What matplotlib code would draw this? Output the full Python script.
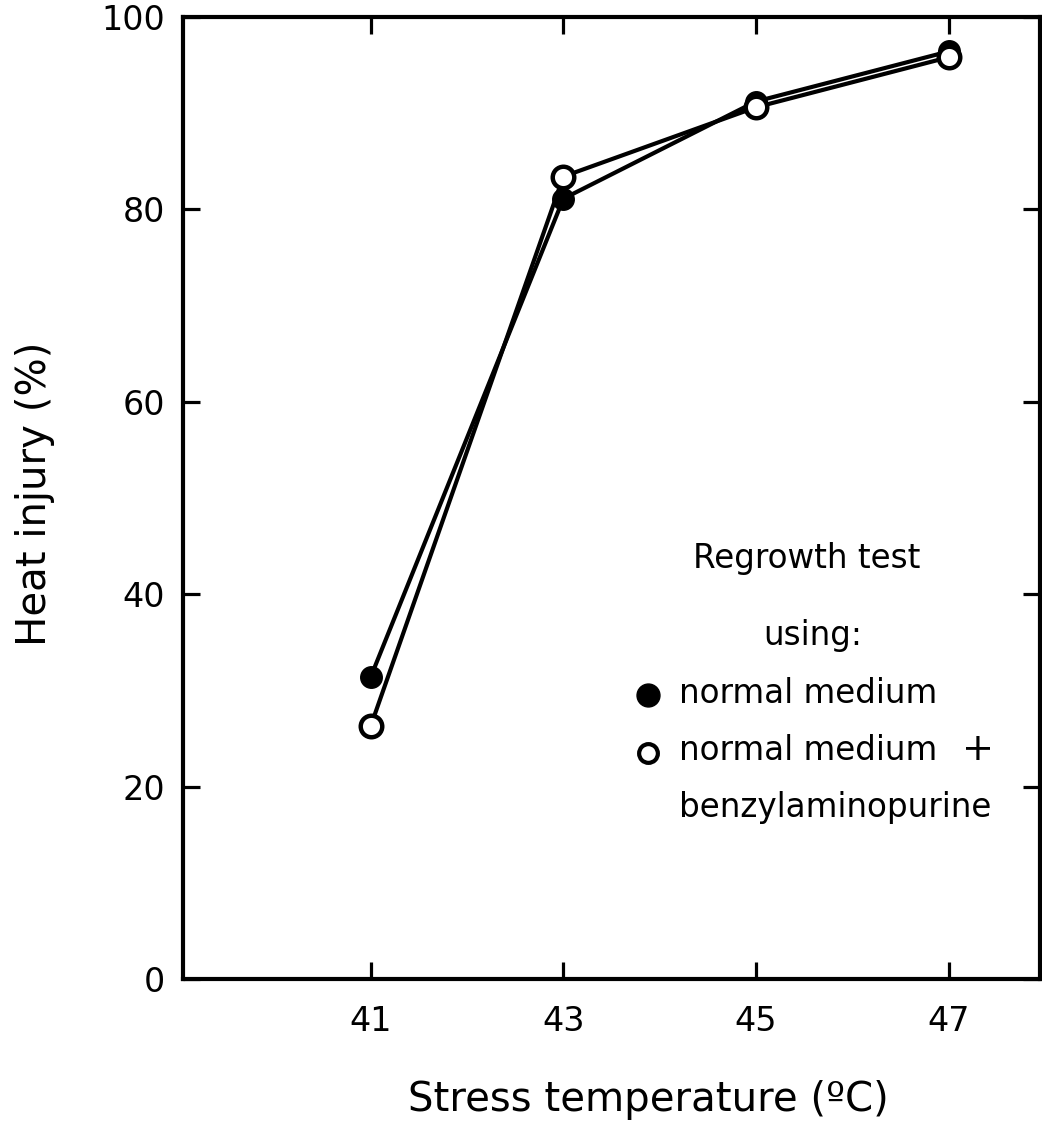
import matplotlib.pyplot as plt

plt.rcParams['font.family'] = ['DejaVu Sans']

temps = [41, 43, 45, 47]
normal = [31.4, 81.1, 91.2, 96.4]
normal_bap = [26.3, 83.4, 90.6, 95.8]
xticks = [41, 43, 45, 47]
yticks = [0, 20, 40, 60, 80, 100]

fig = plt.figure(figsize=(10.42, 11.3), dpi=100)
ax = fig.add_axes([0.1756, 0.1336, 0.8225, 0.8515])

ax.plot(temps, normal, color='k', linewidth=3, marker='o', markersize=15.5,
        markerfacecolor='k', markeredgecolor='k', zorder=3)
ax.plot(temps, normal_bap, color='k', linewidth=3, marker='o', markersize=15.5,
        markerfacecolor='white', markeredgecolor='k', markeredgewidth=3.2, zorder=4)

ax.set_xlim(39.05, 47.95)
ax.set_ylim(0, 100)
ax.set_xticks(xticks)
ax.set_yticks(yticks)
ax.tick_params(direction='in', length=12, width=2.3, labelsize=24,
               top=True, right=True, left=True, bottom=True)
ax.tick_params(axis='x', pad=19)
ax.tick_params(axis='y', pad=13)
for s in ax.spines.values():
    s.set_linewidth(3)

ax.set_xlabel('Stress temperature (ºC)', fontsize=29)
ax.xaxis.set_label_coords(0.5426, -0.105)
ax.set_ylabel('Heat injury (%)', fontsize=29)
ax.yaxis.set_label_coords(-0.149, 0.504)

# legend block
fs = 23.5
ax.text(0.595, 0.4272, 'Regrowth test', transform=ax.transAxes, fontsize=fs,
        ha='left', va='baseline')
ax.text(0.677, 0.3472, 'using:', transform=ax.transAxes, fontsize=fs,
        ha='left', va='baseline')
ax.plot([0.5426], [0.2952], 'o', color='k', markersize=16.5,
        transform=ax.transAxes, clip_on=False)
ax.plot([0.5426], [0.2349], 'o', markerfacecolor='white', markeredgecolor='k',
        markeredgewidth=3, markersize=13.5, transform=ax.transAxes, clip_on=False)
ax.text(0.5788, 0.2869, 'normal medium', transform=ax.transAxes, fontsize=fs,
        ha='left', va='baseline')
ax.text(0.5788, 0.2277, 'normal medium', transform=ax.transAxes, fontsize=fs,
        ha='left', va='baseline')
ax.text(0.909, 0.2277, '+', transform=ax.transAxes, fontsize=fs + 4,
        ha='left', va='baseline')
ax.text(0.5788, 0.1684, 'benzylaminopurine', transform=ax.transAxes, fontsize=fs,
        ha='left', va='baseline')

plt.savefig('out.png', dpi=100)
